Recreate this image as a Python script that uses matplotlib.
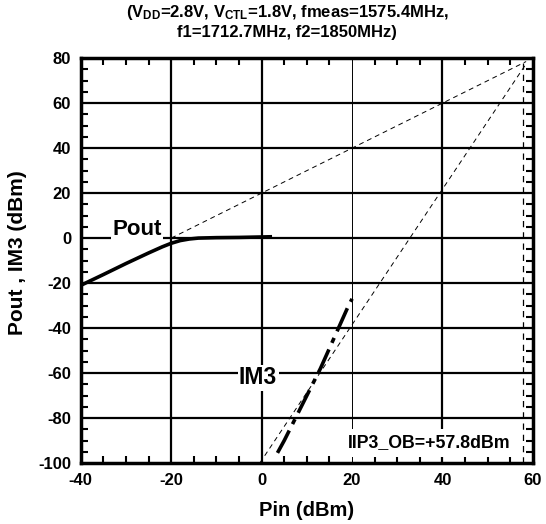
import numpy as np
import matplotlib.pyplot as plt
from matplotlib.ticker import MultipleLocator

plt.rcParams['font.family'] = ['Liberation Sans', 'DejaVu Sans']
plt.rcParams['font.weight'] = 'bold'
plt.rcParams['axes.unicode_minus'] = False
plt.rcParams['mathtext.fontset'] = 'custom'
plt.rcParams['mathtext.rm'] = 'Liberation Sans:bold'
plt.rcParams['mathtext.bf'] = 'Liberation Sans:bold'

# measured Pout
pin_pout = [-40, -35, -30, -25, -22, -20, -18, -16, -14, -10, -5, 0, 2.3]
pout = [-21, -16.2, -11.3, -6.6, -3.9, -2.3, -1.1, -0.4, 0.0, 0.2, 0.3, 0.5, 0.6]

# measured IM3
pin_im3 = [3.5, 5, 7, 9, 11, 13, 15, 17, 19, 20]
im3 = [-95.5, -90, -82, -74, -66, -58, -49, -40, -31, -27]

# extrapolated lines
pout_ext_x = [-20, 58.5]
pout_ext_y = [0, 78.5]
im3_ext_x = [-0.4, 58.5]
im3_ext_y = [-100, 77.5]
iip3 = 57.8

fig = plt.figure(figsize=(5.46, 5.24), dpi=100)
ax = fig.add_axes([0.148, 0.1164, 0.828, 0.7726])

# grid
for y in range(-80, 80, 20):
    ax.axhline(y, color='black', lw=1.6, zorder=1)
for x in [-20, 0, 40]:
    ax.axvline(x, color='black', lw=1.6, zorder=1)
ax.axvline(20, color='black', lw=0.7, zorder=1)

ax.plot(pout_ext_x, pout_ext_y, color='black', lw=0.7, dashes=(5, 4), zorder=2)
ax.plot(im3_ext_x, im3_ext_y, color='black', lw=0.7, dashes=(5, 4), zorder=2)
ax.axvline(iip3, color='black', lw=0.9, dashes=(5, 4), zorder=2)

ax.plot(pin_pout, pout, color='black', lw=2.6, solid_capstyle='butt', zorder=3)
ax.plot(pin_im3, im3, color='black', lw=2.6, dashes=(7, 2, 1.5, 2), zorder=3)

ax.text(-27.6, 4, 'Pout', fontsize=16, fontweight='bold', ha='center', va='center',
        bbox=dict(facecolor='white', edgecolor='none', pad=1), zorder=4)
ax.text(-0.8, -62.2, 'IM3', fontsize=16.5, fontweight='bold', ha='center', va='center',
        bbox=dict(facecolor='white', edgecolor='none', pad=1), zorder=4)
ax.text(55, -91, 'IIP3_OB=+57.8dBm', fontsize=12.8, fontweight='bold', ha='right', va='center',
        bbox=dict(facecolor='white', edgecolor='none', pad=4), zorder=4)

ax.set_xlim(-40, 60)
ax.set_ylim(-100, 80)
ax.xaxis.set_major_locator(MultipleLocator(20))
ax.yaxis.set_major_locator(MultipleLocator(20))
ax.xaxis.set_minor_locator(MultipleLocator(5))
ax.yaxis.set_minor_locator(MultipleLocator(5))
ax.tick_params(which='both', direction='in', top=True, right=True, width=1.5, labelsize=12)
ax.tick_params(which='major', length=0, pad=7)
ax.tick_params(which='minor', length=5)
for lab in ax.get_xticklabels() + ax.get_yticklabels():
    lab.set_fontweight('bold')
for s in ax.spines.values():
    s.set_linewidth(2.5)

fig.text(307 / 546, 1 - 510 / 524, 'Pin (dBm)', fontsize=14.5, fontweight='bold', ha='center', va='center')
fig.text(18 / 546, 1 - 253 / 524, 'Pout , IM3 (dBm)', fontsize=15, fontweight='bold',
         ha='center', va='center', rotation=90)
fig.text(287 / 546, 1 - 13 / 524,
         r'(V$\mathregular{_{DD}}$=2.8V, V$\mathregular{_{CTL}}$=1.8V, fmeas=1575.4MHz,',
         fontsize=12, fontweight='bold', ha='center', va='center')
fig.text(287 / 546, 1 - 33 / 524, 'f1=1712.7MHz, f2=1850MHz)',
         fontsize=12, fontweight='bold', ha='center', va='center')

fig.savefig('out.png', dpi=100)
